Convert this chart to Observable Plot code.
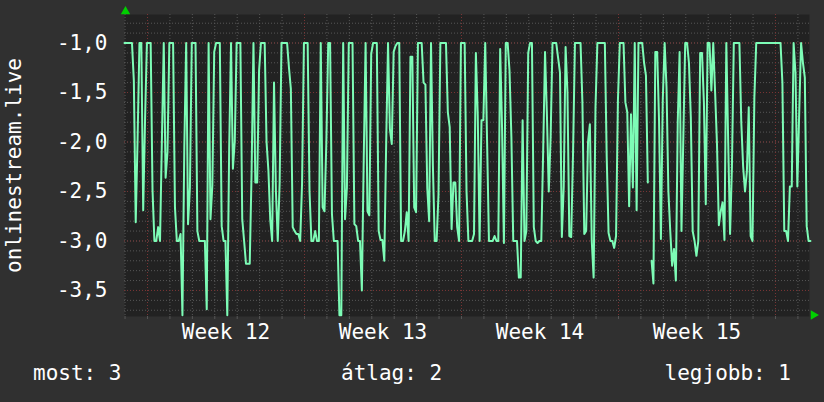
<!DOCTYPE html>
<html><head><meta charset="utf-8">
<script src="https://cdn.jsdelivr.net/npm/d3@7"></script>
<script src="https://cdn.jsdelivr.net/npm/@observablehq/plot@0.6"></script>
<style>
html,body{margin:0;padding:0;background:#303030;}
#wrap{position:relative;width:824px;height:402px;background:#303030;font-family:"DejaVu Sans Mono",monospace;color:#fff;overflow:hidden}
#chart svg{display:block}
.leg{position:absolute;top:363px;font-size:21px;line-height:21px;white-space:pre}
</style></head><body>
<div id="wrap"><div id="chart"></div><div id="legend"></div></div>
<script>
// ---- data ----
const seriesName = "onlinestream.live";
const startUTC = Date.UTC(2024, 2, 16, 23, 24); // first sample
const stepHours = 2;
const spanHours = 733;
const values = [
-1,-1,-1,-1,-1,-1.38,-2.81,-1.97,-1,-1,
-2.69,-1.77,-1,-1,-1,-2.49,-3,-3,-2.86,-3,
-1.99,-1,-2.36,-2.1,-1,-1,-1,-2.66,-3,-3,
-2.93,-3.75,-2.05,-1,-2.83,-2.46,-1,-1,-1,-2.9,
-3,-3,-3,-3,-3.69,-1,-2.78,-2.44,-1.09,-1,
-1,-1,-2.85,-3,-3,-3.75,-2.07,-1,-2.27,-1.99,
-1,-1,-1,-2.78,-3,-3.23,-3.23,-3.23,-2.3,-1,
-2.41,-2.41,-1.28,-1,-1,-1,-2,-2.29,-2.79,-3,
-1.4,-2.49,-3,-2.42,-1,-1,-1,-1,-1.25,-1.46,
-2.86,-2.9,-2.93,-2.93,-3,-2.42,-1,-1,-1,-2.5,
-3,-3,-2.9,-3,-3,-1,-2.66,-2.7,-2,-1,
-1,-2.73,-3,-3,-3,-3.75,-3.75,-1,-2.78,-2.46,
-1,-1,-1,-2.83,-2.85,-3,-3,-3.5,-2.17,-1,
-2.7,-2.74,-1.11,-1,-1,-1,-2.9,-2.99,-2.99,-3.2,
-2.02,-1,-1.87,-2.02,-1.09,-1.03,-1,-1,-3,-3,
-2.9,-2.71,-3,-1.14,-1.14,-2.66,-2.71,-1,-1,-1,
-1.4,-1.42,-2.47,-2.8,-1,-2.24,-3,-3,-2.53,-1,
-1,-1,-1,-1.7,-1.85,-2.88,-2.41,-2.41,-2.86,-3,
-1,-1,-1,-2.5,-3,-3,-3,-2.93,-1.1,-1.73,
-3,-1.78,-1.78,-1,-2,-3,-3,-3,-2.95,-3,
-3,-1.06,-1.85,-3.02,-1,-1,-1.28,-1.95,-3,-3,
-3,-3.37,-3.37,-1.78,-3,-2.9,-1.1,-1,-1,-2.86,
-3,-3.02,-3,-3,-2.1,-1.09,-1.72,-2.5,-1.95,-1,
-1,-1,-1.15,-1.3,-2.96,-2.45,-1.04,-1.5,-2.95,-2.96,
-2.1,-1,-1,-1,-1,-1.6,-2.93,-2.9,-2,-1.82,
-3,-3.37,-1.65,-1,-1,-1,-1,-1,-2.15,-2.92,
-3,-3,-3.07,-2.95,-1.58,-1,-1,-1,-1.6,-1.7,
-2.65,-1.72,-2.46,-1,-2.69,-1,-1,-1,-1.2,-1.33,
-2.41,null,-3.2,-3.43,-1.09,-1.09,-1.78,-2.98,-1.57,-1,
-1.45,-2.5,-2.9,-3.25,-3.08,-3.4,-1.8,-1.09,-2.9,-1.95,
-1,-1,-1.2,-1.75,-2.9,-3,-3.15,-3,-1.1,-1.1,
-1.6,-2.63,-1,-1,-1.48,-1,-1.5,-2.02,-2.84,-2.7,
-2.61,-2.99,-1,-2,-2.93,-2.25,-1,-1,-1,-1,
-1.8,-2.25,-2.5,-2.3,-1.65,-2.95,-3,-1.55,-1,-1,
-1,-1,-1,-1,-1,-1,-1,-1,-1,-1,
-1,-1,-1.4,-2.9,-2.9,-3,-2.45,-2.45,-1,-1.3,
-2.45,-1.7,-1,-1.2,-1.35,-2.85,-3,-3
];
const weekNumbers = [12, 13, 14, 15];
const week12MondayUTC = Date.UTC(2024, 2, 18);
const yTickValues = [-1, -1.5, -2, -2.5, -3, -3.5];
const legendLabels = ["most", "átlag", "legjobb"];
const legendValues = [3, 2, 1];

// ---- build ----
const HOUR = 3600e3, DAY = 24 * HOUR;
const data = values.map((v, i) => ({t: new Date(startUTC + i * stepHours * HOUR), v}));
const xDomain = [new Date(startUTC), new Date(startUTC + spanHours * HOUR)];
const weekMid = weekNumbers.map(w => new Date(week12MondayUTC + (w - 12) * 7 * DAY + 3.5 * DAY));
const locale = d3.formatLocale({decimal: ",", thousands: ".", grouping: [3], currency: ["", ""], minus: "-"});
const fmt = locale.format(".1f");
const yMinor = d3.range(-37, -7).map(k => k / 10);
const yMajor = d3.range(-7, -1).map(k => k / 2);

const chart = Plot.plot({
  width: 824, height: 350,
  marginLeft: 124, marginRight: 15, marginTop: 14, marginBottom: 34,
  style: {background: "transparent", color: "#fff", fontFamily: "DejaVu Sans Mono", fontSize: "21px", overflow: "visible"},
  x: {type: "utc", domain: xDomain},
  y: {domain: [-3.763, -0.712]},
  marks: [
    Plot.frame({fill: "#222222", stroke: null}),
    Plot.gridY({ticks: yMinor, stroke: "#575757", strokeOpacity: 1, strokeDasharray: "1,2"}),
    Plot.gridX({ticks: d3.utcDay, stroke: "#575757", strokeOpacity: 1, strokeDasharray: "1,2"}),
    Plot.gridY({ticks: yMajor, stroke: "#7a3434", strokeOpacity: 1, strokeDasharray: "1,2"}),
    Plot.gridX({ticks: d3.utcMonday, stroke: "#7a3434", strokeOpacity: 1, strokeDasharray: "1,2"}),
    Plot.axisX({ticks: d3.utcDay, tickSize: 3, tickFormat: () => "", stroke: "#575757", label: null}),
    Plot.axisX({ticks: weekMid, tickSize: 0, tickPadding: 8, tickFormat: d => "Week " + d3.utcFormat("%V")(d), fill: "#fff", label: null}),
    Plot.axisY({ticks: yTickValues, tickSize: 0, tickPadding: 17, tickFormat: fmt, fill: "#fff", label: null}),
    Plot.text([seriesName], {frameAnchor: "left", rotate: -90, dx: -110, text: d => d, fill: "#fff", textAnchor: "middle", lineAnchor: "middle"}),
    Plot.line(data, {x: "t", y: "v", stroke: "#7dfcb6", strokeWidth: 2, curve: "linear", defined: d => d.v != null}),
    Plot.dot([0], {frameAnchor: "top-left", symbol: "triangle", r: 3.5, fill: "#00d000", stroke: null, dx: 1, dy: -3}),
    Plot.dot([0], {frameAnchor: "bottom-right", symbol: "triangle", r: 3.5, fill: "#00d000", stroke: null, rotate: 90, dx: 4, dy: -1.5})
  ]
});
document.getElementById("chart").appendChild(chart);

const leg = document.getElementById("legend");
const pos = [{left: "33px"}, {left: "341px"}, {right: "33px"}];
legendLabels.forEach((l, i) => {
  const d = document.createElement("div");
  d.className = "leg";
  d.textContent = l + ": " + legendValues[i];
  Object.assign(d.style, pos[i]);
  leg.appendChild(d);
});
</script>
</body></html>
